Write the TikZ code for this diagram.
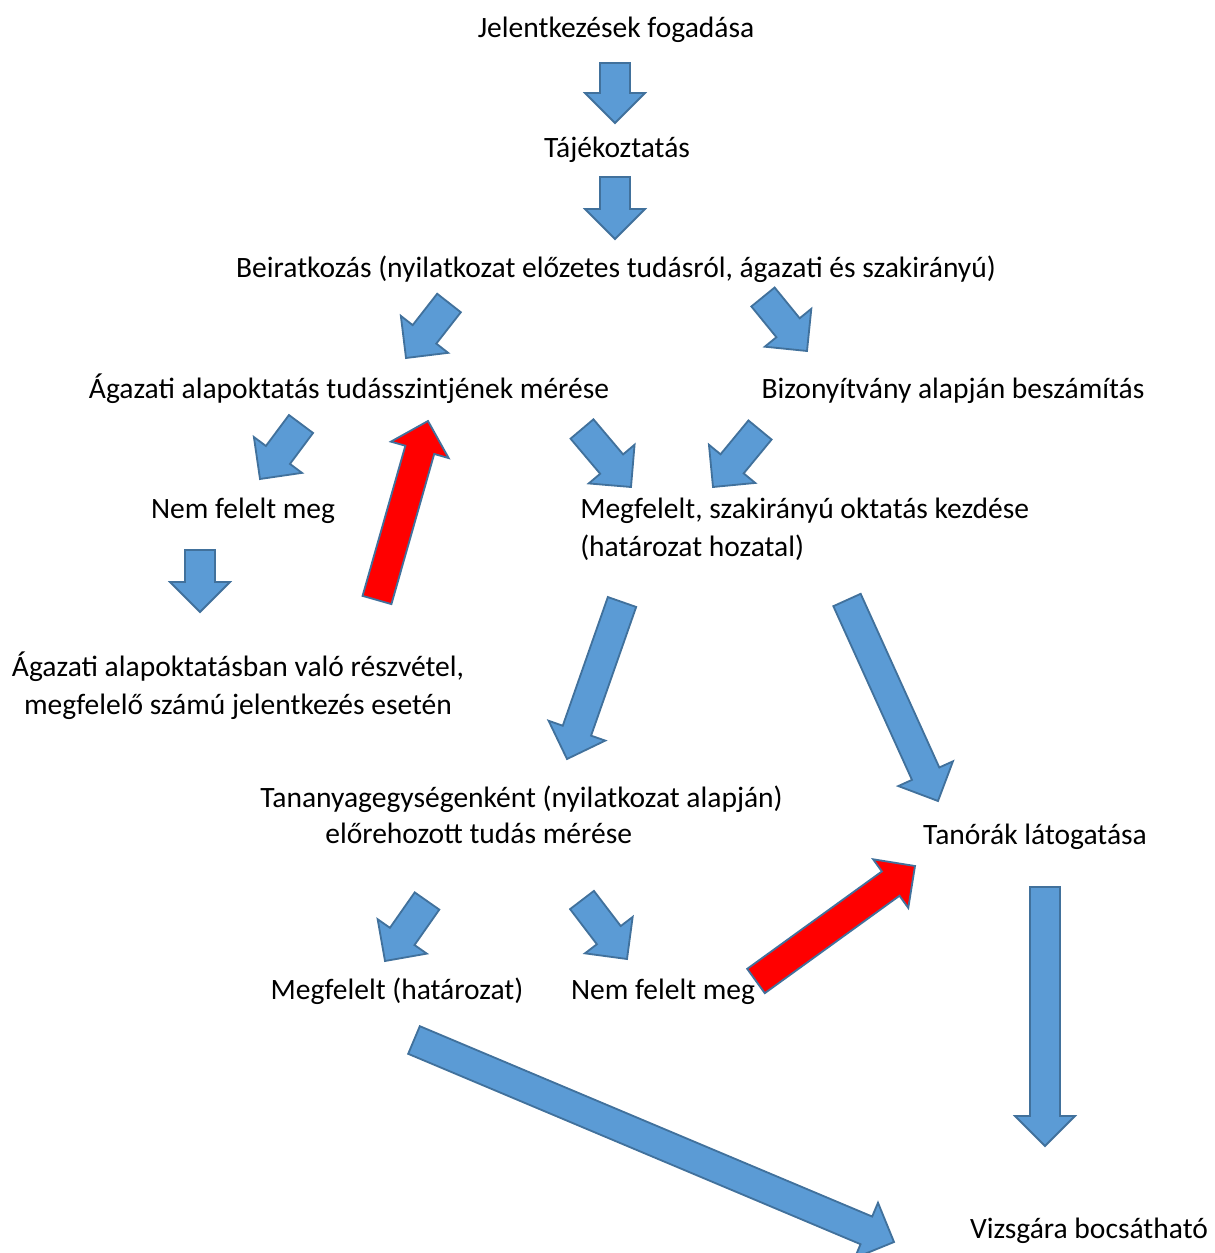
\documentclass[tikz,border=0pt]{standalone}
\usepackage{fontspec}
\setmainfont{Carlito}
\usepackage{xcolor}
\usetikzlibrary{calc,positioning}
\definecolor{arrowfill}{HTML}{5B9BD5}
\definecolor{arrowline}{HTML}{41719C}
\tikzset{%
	txt/.style       = {anchor=base, inner sep=0pt, font=\fontsize{21}{27}\selectfont},
	bluearrow/.style = {draw=arrowline, fill=arrowfill, line width=1.3pt, line join=miter},
	redarrow/.style  = {bluearrow, fill=red},
}
% block arrow: name, tail, tip
\newcommand{\blockarrow}[4][bluearrow]{%
	\coordinate (#2s) at (#3);
	\coordinate (#2e) at (#4);
	\coordinate (#2h) at ($(#2e)!0.75cm!(#2s)$);
	\draw[#1] ($(#2s)!0.375cm!90:(#2e)$) -- ($(#2h)!0.375cm!90:(#2e)$) -- ($(#2h)!0.75cm!90:(#2e)$) -- (#2e)
		-- ($(#2h)!0.75cm!-90:(#2e)$) -- ($(#2h)!0.375cm!-90:(#2e)$) -- ($(#2s)!0.375cm!-90:(#2e)$) -- cycle;
}

\begin{document}
\begin{tikzpicture}[x=0.025cm, y=-0.025cm]
	\useasboundingbox (0,0) rectangle (1214,1253);
	% texts (multi-line nodes sit on their last baseline)
	\node[txt] (jel) at (616,38) {Jelentkezések fogadása};
	\node[txt] (taj) at (617,158) {Tájékoztatás};
	\node[txt] (beir) at (616,278) {Beiratkozás (nyilatkozat előzetes tudásról, ágazati és szakirányú)};
	\node[txt] (meres) at (349,398) {Ágazati alapoktatás tudásszintjének mérése};
	\node[txt] (biz) at (953,398) {Bizonyítvány alapján beszámítás};
	\node[txt] (nem1) at (243,518) {Nem felelt meg};
	\node[txt, anchor=base west, align=left] (megf) at (580,556) {Megfelelt, szakirányú oktatás kezdése\\(határozat hozatal)};
	\node[txt, align=center] (reszv) at (238,714) {Ágazati alapoktatásban való részvétel,\\ megfelelő számú jelentkezés esetén};
	\node[txt, anchor=base west, align=left, font=\fontsize{21}{25}\selectfont] (tan) at (260,843) {Tananyagegységenként (nyilatkozat alapján)\\\hspace*{1.625cm}előrehozott tudás mérése};
	\node[txt] (lat) at (1035,844) {Tanórák látogatása};
	\node[txt] (megf2) at (397,999) {Megfelelt (határozat)};
	\node[txt] (nem2) at (663,999) {Nem felelt meg};
	\node[txt] (vizs) at (1089,1238) {Vizsgára bocsátható};
	% arrows
	\blockarrow{a1}{615,63}{615,123}
	\blockarrow{a2}{615,177}{615,239}
	\blockarrow{a3}{449,303}{406,358}
	\blockarrow{a4}{763,297}{807,351}
	\blockarrow{a5}{301,424}{260,479}
	\blockarrow[redarrow]{r6}{377,600}{428,421}
	\blockarrow{a7}{582,429}{631,487}
	\blockarrow{a8}{760,430}{713,487}
	\blockarrow{a9}{200,550}{200,612}
	\blockarrow{a10}{622,602}{567,759}
	\blockarrow{a11}{847,600}{938,801}
	\blockarrow{a12}{427,901}{385,961}
	\blockarrow{a13}{582,900}{627,959}
	\blockarrow[redarrow]{r14}{756,981}{915,866}
	\blockarrow{a15}{1045,887}{1045,1146}
	\blockarrow{a16}{414,1040}{894,1242}
\end{tikzpicture}
\end{document}
